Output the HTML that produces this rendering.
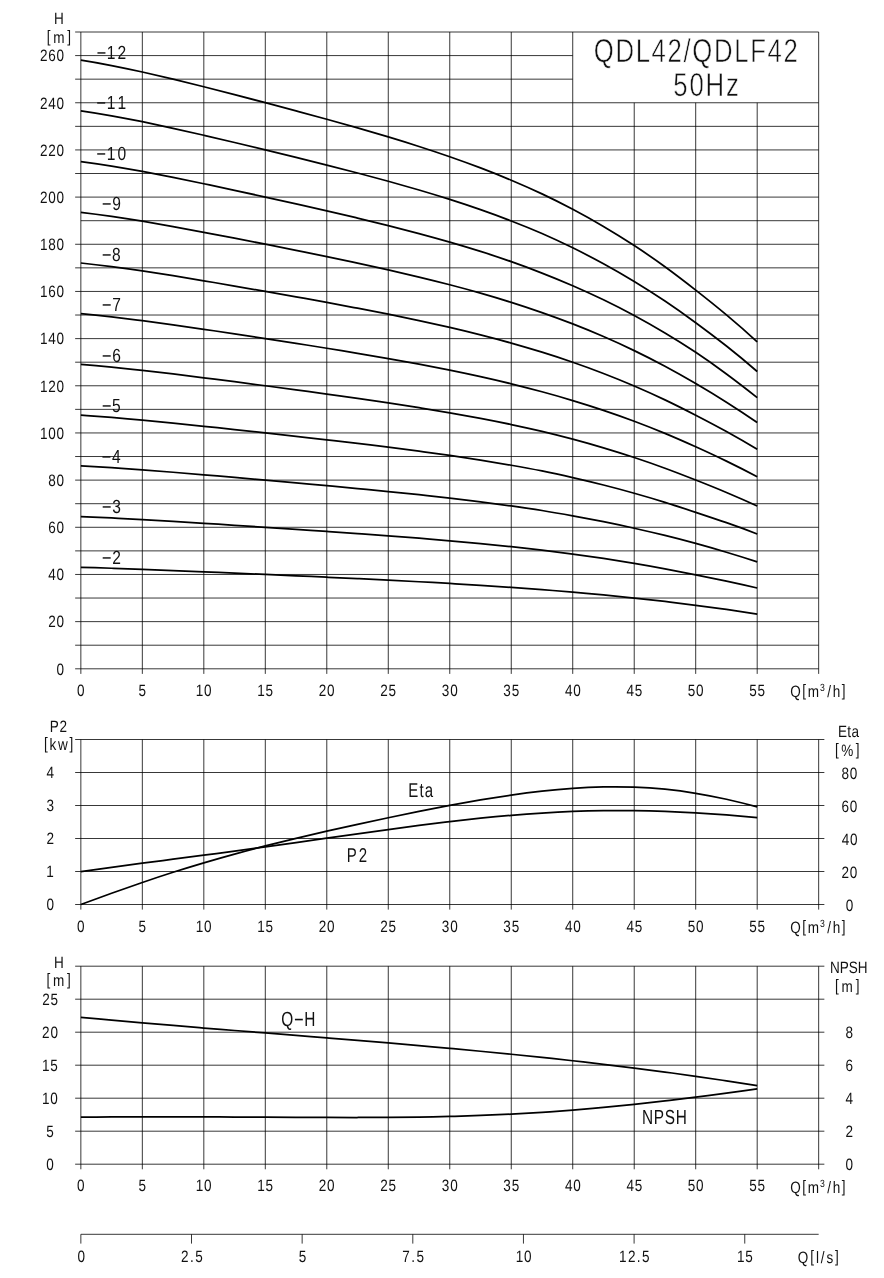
<!DOCTYPE html>
<html lang="en">
<head>
<meta charset="utf-8">
<title>QDL42/QDLF42 50Hz performance curves</title>
<style>
html,body{margin:0;padding:0;background:#fff}
svg{display:block;will-change:transform}
text{font-family:"Liberation Sans",sans-serif;fill:#111;font-kerning:none;white-space:pre;text-rendering:geometricPrecision}
.t{stroke:#fff;stroke-width:.6}
.g{fill:none;stroke:#000;stroke-opacity:.78;stroke-width:1}
.c{fill:none;stroke:#000;stroke-width:1.75;stroke-linecap:butt;stroke-linejoin:round}
</style>
</head>
<body>
<svg width="884" height="1278" viewBox="0 0 884 1278">
<rect width="884" height="1278" fill="#fff"/>
<path class="g" d="M80.85 32V673.9M142.33 32V673.9M203.82 32V673.9M265.31 32V673.9M326.79 32V673.9M388.27 32V673.9M449.76 32V673.9M511.25 32V673.9M572.73 32V673.9M634.22 102.76V673.9M695.7 102.76V673.9M757.19 102.76V673.9M818.67 32V673.9"/>
<path class="g" d="M75.15 668.8H818.67M75.15 645.21H818.67M75.15 621.63H818.67M75.15 598.04H818.67M75.15 574.46H818.67M75.15 550.88H818.67M75.15 527.29H818.67M75.15 503.7H818.67M75.15 480.12H818.67M75.15 456.53H818.67M75.15 432.95H818.67M75.15 409.36H818.67M75.15 385.78H818.67M75.15 362.19H818.67M75.15 338.61H818.67M75.15 315.02H818.67M75.15 291.44H818.67M75.15 267.85H818.67M75.15 244.27H818.67M80.85 220.69H818.67M75.15 197.1H818.67M75.15 173.51H818.67M75.15 149.93H818.67M75.15 126.35H818.67M75.15 102.76H818.67M75.15 79.17H572.73M75.15 55.59H572.73M75.15 32H818.67"/>
<path class="g" d="M80.85 739.5V909.6M142.33 739.5V909.6M203.82 739.5V909.6M265.31 739.5V909.6M326.79 739.5V909.6M388.27 739.5V909.6M449.76 739.5V909.6M511.25 739.5V909.6M572.73 739.5V909.6M634.22 739.5V909.6M695.7 739.5V909.6M757.19 739.5V909.6M818.67 739.5V909.6"/>
<path class="g" d="M75.15 904.5H824.37M75.15 871.5H824.37M75.15 838.5H824.37M75.15 805.5H824.37M75.15 772.5H824.37M75.15 739.5H824.37"/>
<path class="g" d="M80.85 966.2V1169.3M142.33 966.2V1169.3M203.82 966.2V1169.3M265.31 966.2V1169.3M326.79 966.2V1169.3M388.27 966.2V1169.3M449.76 966.2V1169.3M511.25 966.2V1169.3M572.73 966.2V1169.3M634.22 966.2V1169.3M695.7 966.2V1169.3M757.19 966.2V1169.3M818.67 966.2V1169.3"/>
<path class="g" d="M75.15 1164.2H824.37M75.15 1131.2H824.37M75.15 1098.2H824.37M75.15 1065.2H824.37M75.15 1032.2H824.37M75.15 999.2H824.37M75.15 966.2H824.37"/>
<path class="g" d="M80.85 1234.3H818.67M80.85 1234.3V1243.6M191.5 1234.3V1243.6M302.15 1234.3V1243.6M412.8 1234.3V1243.6M523.45 1234.3V1243.6M634.1 1234.3V1243.6M744.75 1234.3V1243.6"/>
<path class="c" d="M80.85 60.1C91.1 61.69 101.34 63.52 111.59 65.52C121.84 67.53 132.09 69.7 142.33 71.99C152.58 74.28 162.83 76.68 173.08 79.15C183.32 81.62 193.57 84.17 203.82 86.76C214.07 89.34 224.31 91.97 234.56 94.63C244.81 97.29 255.06 99.98 265.31 102.69C275.55 105.4 285.8 108.13 296.05 110.9C306.3 113.66 316.54 116.45 326.79 119.28C337.04 122.11 347.29 124.98 357.53 127.92C367.78 130.85 378.03 133.85 388.27 136.93C398.52 140.02 408.77 143.19 419.02 146.48C429.27 149.77 439.51 153.18 449.76 156.75C460.01 160.31 470.26 164.03 480.5 167.93C490.75 171.84 501 175.94 511.25 180.25C521.49 184.56 531.74 189.08 541.99 193.91C552.24 198.74 562.48 203.89 572.73 209.31C582.98 214.74 593.23 220.44 603.47 226.48C613.72 232.51 623.97 238.88 634.22 245.57C644.46 252.27 654.71 259.29 664.96 266.75C675.21 274.2 685.45 282.09 695.7 290.12C705.95 298.15 716.2 306.32 726.44 314.88C736.69 323.43 746.94 332.36 757.19 341.91"/>
<path class="c" d="M80.85 110.82C91.1 112.29 101.34 113.96 111.59 115.8C121.84 117.63 132.09 119.63 142.33 121.72C152.58 123.82 162.83 126.02 173.08 128.29C183.32 130.55 193.57 132.89 203.82 135.26C214.07 137.63 224.31 140.04 234.56 142.48C244.81 144.92 255.06 147.38 265.31 149.87C275.55 152.35 285.8 154.86 296.05 157.39C306.3 159.92 316.54 162.48 326.79 165.07C337.04 167.67 347.29 170.3 357.53 172.99C367.78 175.68 378.03 178.43 388.27 181.25C398.52 184.08 408.77 186.99 419.02 190.01C429.27 193.03 439.51 196.15 449.76 199.42C460.01 202.68 470.26 206.09 480.5 209.67C490.75 213.25 501 217.02 511.25 220.96C521.49 224.9 531.74 229.02 541.99 233.48C552.24 237.95 562.48 242.76 572.73 247.81C582.98 252.86 593.23 258.16 603.47 263.75C613.72 269.35 623.97 275.25 634.22 281.46C644.46 287.67 654.71 294.2 664.96 301.08C675.21 307.97 685.45 315.22 695.7 322.71C705.95 330.21 716.2 337.96 726.44 346.06C736.69 354.15 746.94 362.6 757.19 371.49"/>
<path class="c" d="M80.85 161.55C91.1 162.88 101.34 164.4 111.59 166.07C121.84 167.74 132.09 169.55 142.33 171.46C152.58 173.36 162.83 175.37 173.08 177.43C183.32 179.49 193.57 181.61 203.82 183.76C214.07 185.92 224.31 188.11 234.56 190.33C244.81 192.54 255.06 194.78 265.31 197.04C275.55 199.3 285.8 201.58 296.05 203.88C306.3 206.18 316.54 208.51 326.79 210.86C337.04 213.22 347.29 215.62 357.53 218.06C367.78 220.51 378.03 223.01 388.27 225.58C398.52 228.15 408.77 230.79 419.02 233.53C429.27 236.28 439.51 239.12 449.76 242.09C460.01 245.06 470.26 248.16 480.5 251.41C490.75 254.66 501 258.07 511.25 261.67C521.49 265.27 531.74 269.06 541.99 273.06C552.24 277.05 562.48 281.26 572.73 285.71C582.98 290.16 593.23 294.86 603.47 299.82C613.72 304.78 623.97 310.01 634.22 315.54C644.46 321.07 654.71 326.9 664.96 333C675.21 339.1 685.45 345.47 695.7 352.29C705.95 359.11 716.2 366.39 726.44 373.98C736.69 381.57 746.94 389.48 757.19 397.57"/>
<path class="c" d="M80.85 212.27C91.1 213.47 101.34 214.84 111.59 216.34C121.84 217.85 132.09 219.48 142.33 221.19C152.58 222.91 162.83 224.71 173.08 226.56C183.32 228.42 193.57 230.33 203.82 232.27C214.07 234.21 224.31 236.18 234.56 238.18C244.81 240.17 255.06 242.18 265.31 244.22C275.55 246.25 285.8 248.3 296.05 250.37C306.3 252.44 316.54 254.53 326.79 256.66C337.04 258.78 347.29 260.94 357.53 263.14C367.78 265.34 378.03 267.59 388.27 269.9C398.52 272.21 408.77 274.59 419.02 277.06C429.27 279.53 439.51 282.09 449.76 284.76C460.01 287.43 470.26 290.22 480.5 293.15C490.75 296.08 501 299.14 511.25 302.39C521.49 305.63 531.74 309.05 541.99 312.63C552.24 316.21 562.48 319.96 572.73 323.93C582.98 327.9 593.23 332.11 603.47 336.55C613.72 340.99 623.97 345.67 634.22 350.61C644.46 355.55 654.71 360.75 664.96 366.24C675.21 371.73 685.45 377.52 695.7 383.52C705.95 389.51 716.2 395.71 726.44 402.19C736.69 408.67 746.94 415.44 757.19 422.57"/>
<path class="c" d="M80.85 263C91.1 264.06 101.34 265.28 111.59 266.62C121.84 267.95 132.09 269.4 142.33 270.93C152.58 272.45 162.83 274.05 173.08 275.7C183.32 277.35 193.57 279.04 203.82 280.77C214.07 282.5 224.31 284.25 234.56 286.02C244.81 287.8 255.06 289.59 265.31 291.39C275.55 293.2 285.8 295.02 296.05 296.86C306.3 298.7 316.54 300.56 326.79 302.45C337.04 304.34 347.29 306.25 357.53 308.21C367.78 310.17 378.03 312.16 388.27 314.22C398.52 316.28 408.77 318.39 419.02 320.59C429.27 322.78 439.51 325.06 449.76 327.43C460.01 329.81 470.26 332.29 480.5 334.89C490.75 337.49 501 340.22 511.25 343.1C521.49 345.98 531.74 349.02 541.99 352.21C552.24 355.39 562.48 358.72 572.73 362.25C582.98 365.78 593.23 369.51 603.47 373.46C613.72 377.41 623.97 381.58 634.22 385.97C644.46 390.36 654.71 394.97 664.96 399.86C675.21 404.75 685.45 409.93 695.7 415.21C705.95 420.5 716.2 425.89 726.44 431.53C736.69 437.17 746.94 443.07 757.19 449.37"/>
<path class="c" d="M80.85 313.72C91.1 314.65 101.34 315.72 111.59 316.89C121.84 318.06 132.09 319.33 142.33 320.66C152.58 322 162.83 323.4 173.08 324.84C183.32 326.28 193.57 327.76 203.82 329.27C214.07 330.78 224.31 332.32 234.56 333.87C244.81 335.42 255.06 336.99 265.31 338.57C275.55 340.15 285.8 341.74 296.05 343.36C306.3 344.97 316.54 346.59 326.79 348.25C337.04 349.9 347.29 351.57 357.53 353.28C367.78 355 378.03 356.74 388.27 358.54C398.52 360.34 408.77 362.19 419.02 364.11C429.27 366.03 439.51 368.02 449.76 370.1C460.01 372.18 470.26 374.35 480.5 376.63C490.75 378.9 501 381.29 511.25 383.81C521.49 386.34 531.74 389 541.99 391.78C552.24 394.56 562.48 397.46 572.73 400.54C582.98 403.61 593.23 406.87 603.47 410.32C613.72 413.76 623.97 417.39 634.22 421.22C644.46 425.05 654.71 429.08 664.96 433.34C675.21 437.61 685.45 442.12 695.7 446.75C705.95 451.38 716.2 456.13 726.44 461.11C736.69 466.08 746.94 471.28 757.19 476.79"/>
<path class="c" d="M80.85 364.45C91.1 365.25 101.34 366.16 111.59 367.16C121.84 368.16 132.09 369.25 142.33 370.39C152.58 371.54 162.83 372.74 173.08 373.98C183.32 375.21 193.57 376.48 203.82 377.78C214.07 379.07 224.31 380.39 234.56 381.72C244.81 383.05 255.06 384.39 265.31 385.75C275.55 387.1 285.8 388.47 296.05 389.85C306.3 391.23 316.54 392.62 326.79 394.04C337.04 395.45 347.29 396.89 357.53 398.36C367.78 399.83 378.03 401.32 388.27 402.87C398.52 404.41 408.77 405.99 419.02 407.64C429.27 409.29 439.51 410.99 449.76 412.77C460.01 414.55 470.26 416.41 480.5 418.37C490.75 420.32 501 422.37 511.25 424.52C521.49 426.67 531.74 428.92 541.99 431.35C552.24 433.79 562.48 436.42 572.73 439.17C582.98 441.93 593.23 444.81 603.47 447.86C613.72 450.92 623.97 454.14 634.22 457.52C644.46 460.91 654.71 464.46 664.96 468.23C675.21 471.99 685.45 475.98 695.7 480.03C705.95 484.07 716.2 488.18 726.44 492.47C736.69 496.77 746.94 501.26 757.19 506.06"/>
<path class="c" d="M80.85 415.17C91.1 415.84 101.34 416.6 111.59 417.44C121.84 418.27 132.09 419.18 142.33 420.13C152.58 421.08 162.83 422.08 173.08 423.11C183.32 424.14 193.57 425.2 203.82 426.28C214.07 427.36 224.31 428.46 234.56 429.56C244.81 430.67 255.06 431.79 265.31 432.92C275.55 434.05 285.8 435.19 296.05 436.34C306.3 437.49 316.54 438.65 326.79 439.83C337.04 441.01 347.29 442.21 357.53 443.43C367.78 444.65 378.03 445.9 388.27 447.19C398.52 448.47 408.77 449.8 419.02 451.17C429.27 452.54 439.51 453.96 449.76 455.44C460.01 456.93 470.26 458.47 480.5 460.11C490.75 461.74 501 463.45 511.25 465.24C521.49 467.02 531.74 468.87 541.99 470.93C552.24 472.99 562.48 475.25 572.73 477.61C582.98 479.97 593.23 482.42 603.47 485.02C613.72 487.62 623.97 490.36 634.22 493.23C644.46 496.11 654.71 499.11 664.96 502.32C675.21 505.52 685.45 508.91 695.7 512.31C705.95 515.71 716.2 519.12 726.44 522.69C736.69 526.25 746.94 529.98 757.19 534.01"/>
<path class="c" d="M80.85 465.9C91.1 466.43 101.34 467.04 111.59 467.71C121.84 468.38 132.09 469.1 142.33 469.86C152.58 470.63 162.83 471.43 173.08 472.25C183.32 473.07 193.57 473.92 203.82 474.79C214.07 475.65 224.31 476.52 234.56 477.41C244.81 478.3 255.06 479.19 265.31 480.1C275.55 481 285.8 481.91 296.05 482.83C306.3 483.75 316.54 484.68 326.79 485.63C337.04 486.57 347.29 487.53 357.53 488.51C367.78 489.48 378.03 490.48 388.27 491.51C398.52 492.54 408.77 493.6 419.02 494.69C429.27 495.79 439.51 496.93 449.76 498.12C460.01 499.3 470.26 500.54 480.5 501.84C490.75 503.15 501 504.52 511.25 505.95C521.49 507.38 531.74 508.86 541.99 510.5C552.24 512.14 562.48 513.94 572.73 515.81C582.98 517.68 593.23 519.63 603.47 521.7C613.72 523.76 623.97 525.94 634.22 528.23C644.46 530.53 654.71 532.94 664.96 535.46C675.21 537.99 685.45 540.63 695.7 543.42C705.95 546.22 716.2 549.17 726.44 552.24C736.69 555.32 746.94 558.52 757.19 561.82"/>
<path class="c" d="M80.85 516.62C91.1 517.02 101.34 517.48 111.59 517.98C121.84 518.48 132.09 519.03 142.33 519.6C152.58 520.17 162.83 520.77 173.08 521.39C183.32 522.01 193.57 522.64 203.82 523.29C214.07 523.94 224.31 524.59 234.56 525.26C244.81 525.92 255.06 526.59 265.31 527.27C275.55 527.95 285.8 528.63 296.05 529.32C306.3 530.01 316.54 530.71 326.79 531.42C337.04 532.13 347.29 532.85 357.53 533.58C367.78 534.31 378.03 535.06 388.27 535.83C398.52 536.6 408.77 537.4 419.02 538.22C429.27 539.04 439.51 539.9 449.76 540.79C460.01 541.68 470.26 542.6 480.5 543.58C490.75 544.56 501 545.59 511.25 546.66C521.49 547.73 531.74 548.85 541.99 550.08C552.24 551.31 562.48 552.65 572.73 554.06C582.98 555.46 593.23 556.92 603.47 558.47C613.72 560.02 623.97 561.66 634.22 563.37C644.46 565.09 654.71 566.89 664.96 568.8C675.21 570.7 685.45 572.71 695.7 574.77C705.95 576.82 716.2 578.91 726.44 581.1C736.69 583.28 746.94 585.57 757.19 588"/>
<path class="c" d="M80.85 567.35C91.1 567.62 101.34 567.92 111.59 568.25C121.84 568.59 132.09 568.95 142.33 569.33C152.58 569.71 162.83 570.11 173.08 570.53C183.32 570.94 193.57 571.36 203.82 571.79C214.07 572.22 224.31 572.66 234.56 573.11C244.81 573.55 255.06 574 265.31 574.45C275.55 574.9 285.8 575.36 296.05 575.82C306.3 576.28 316.54 576.74 326.79 577.21C337.04 577.68 347.29 578.16 357.53 578.65C367.78 579.14 378.03 579.64 388.27 580.16C398.52 580.67 408.77 581.2 419.02 581.75C429.27 582.3 439.51 582.86 449.76 583.46C460.01 584.05 470.26 584.67 480.5 585.32C490.75 585.97 501 586.65 511.25 587.37C521.49 588.1 531.74 588.86 541.99 589.65C552.24 590.44 562.48 591.26 572.73 592.13C582.98 593.01 593.23 593.93 603.47 594.91C613.72 595.89 623.97 596.92 634.22 598.01C644.46 599.1 654.71 600.24 664.96 601.45C675.21 602.66 685.45 603.92 695.7 605.26C705.95 606.6 716.2 608.01 726.44 609.48C736.69 610.96 746.94 612.49 757.19 614.08"/>
<path class="c" d="M80.85 904.49C91.1 900.73 101.34 896.98 111.59 893.3C121.84 889.61 132.09 885.99 142.33 882.47C152.58 878.96 162.83 875.56 173.08 872.28C183.32 869 193.57 865.84 203.82 862.81C214.07 859.78 224.31 856.86 234.56 854.06C244.81 851.25 255.06 848.56 265.31 845.95C275.55 843.34 285.8 840.81 296.05 838.36C306.3 835.91 316.54 833.52 326.79 831.19C337.04 828.85 347.29 826.57 357.53 824.33C367.78 822.1 378.03 819.9 388.27 817.75C398.52 815.6 408.77 813.5 419.02 811.45C429.27 809.4 439.51 807.4 449.76 805.48C460.01 803.56 470.26 801.72 480.5 799.98C490.75 798.24 501 796.61 511.25 795.13C521.49 793.64 531.74 792.31 541.99 791.16C552.24 790.01 562.48 789.05 572.73 788.33C582.98 787.6 593.23 787.12 603.47 786.91C613.72 786.7 623.97 786.76 634.22 787.14C644.46 787.52 654.71 788.22 664.96 789.24C675.21 790.26 685.45 791.61 695.7 793.29C705.95 794.97 716.2 796.98 726.44 799.27C736.69 801.57 746.94 804.14 757.19 806.96"/>
<path class="c" d="M80.85 871.63C91.1 870.11 101.34 868.67 111.59 867.27C121.84 865.87 132.09 864.51 142.33 863.18C152.58 861.84 162.83 860.52 173.08 859.19C183.32 857.86 193.57 856.53 203.82 855.18C214.07 853.83 224.31 852.47 234.56 851.09C244.81 849.71 255.06 848.3 265.31 846.88C275.55 845.46 285.8 844.02 296.05 842.57C306.3 841.11 316.54 839.65 326.79 838.19C337.04 836.72 347.29 835.26 357.53 833.81C367.78 832.36 378.03 830.93 388.27 829.52C398.52 828.12 408.77 826.75 419.02 825.42C429.27 824.1 439.51 822.83 449.76 821.62C460.01 820.41 470.26 819.28 480.5 818.22C490.75 817.17 501 816.2 511.25 815.34C521.49 814.47 531.74 813.71 541.99 813.06C552.24 812.42 562.48 811.88 572.73 811.48C582.98 811.07 593.23 810.79 603.47 810.64C613.72 810.49 623.97 810.48 634.22 810.59C644.46 810.7 654.71 810.95 664.96 811.32C675.21 811.69 685.45 812.19 695.7 812.79C705.95 813.4 716.2 814.12 726.44 814.93C736.69 815.73 746.94 816.63 757.19 817.59"/>
<path class="c" d="M80.85 1017.39C91.1 1018.34 101.34 1019.27 111.59 1020.19C121.84 1021.1 132.09 1021.99 142.33 1022.87C152.58 1023.75 162.83 1024.62 173.08 1025.48C183.32 1026.33 193.57 1027.18 203.82 1028.01C214.07 1028.85 224.31 1029.68 234.56 1030.5C244.81 1031.33 255.06 1032.15 265.31 1032.97C275.55 1033.79 285.8 1034.61 296.05 1035.43C306.3 1036.25 316.54 1037.08 326.79 1037.91C337.04 1038.74 347.29 1039.58 357.53 1040.42C367.78 1041.27 378.03 1042.12 388.27 1042.99C398.52 1043.86 408.77 1044.74 419.02 1045.64C429.27 1046.54 439.51 1047.45 449.76 1048.38C460.01 1049.32 470.26 1050.27 480.5 1051.25C490.75 1052.22 501 1053.22 511.25 1054.25C521.49 1055.28 531.74 1056.33 541.99 1057.41C552.24 1058.49 562.48 1059.61 572.73 1060.75C582.98 1061.9 593.23 1063.08 603.47 1064.29C613.72 1065.51 623.97 1066.76 634.22 1068.05C644.46 1069.34 654.71 1070.68 664.96 1072.05C675.21 1073.43 685.45 1074.85 695.7 1076.31C705.95 1077.78 716.2 1079.29 726.44 1080.86C736.69 1082.42 746.94 1084.04 757.19 1085.7"/>
<path class="c" d="M80.85 1117.05C91.1 1117.03 101.34 1117 111.59 1116.97C121.84 1116.94 132.09 1116.91 142.33 1116.9C152.58 1116.88 162.83 1116.87 173.08 1116.87C183.32 1116.88 193.57 1116.89 203.82 1116.92C214.07 1116.95 224.31 1116.99 234.56 1117.03C244.81 1117.08 255.06 1117.13 265.31 1117.19C275.55 1117.24 285.8 1117.3 296.05 1117.35C306.3 1117.4 316.54 1117.44 326.79 1117.47C337.04 1117.5 347.29 1117.52 357.53 1117.5C367.78 1117.49 378.03 1117.45 388.27 1117.38C398.52 1117.3 408.77 1117.19 419.02 1117.03C429.27 1116.87 439.51 1116.67 449.76 1116.41C460.01 1116.15 470.26 1115.83 480.5 1115.45C490.75 1115.07 501 1114.62 511.25 1114.11C521.49 1113.59 531.74 1113 541.99 1112.34C552.24 1111.68 562.48 1110.95 572.73 1110.14C582.98 1109.33 593.23 1108.44 603.47 1107.48C613.72 1106.52 623.97 1105.49 634.22 1104.39C644.46 1103.29 654.71 1102.12 664.96 1100.9C675.21 1099.68 685.45 1098.4 695.7 1097.08C705.95 1095.76 716.2 1094.41 726.44 1093.03C736.69 1091.66 746.94 1090.26 757.19 1088.88"/>
<text transform="translate(593.78,62.30) scale(0.78,1)" font-size="33" letter-spacing="2.10" class="t">QDL42/QDLF42</text>
<text transform="translate(673.37,95.60) scale(0.78,1)" font-size="33" letter-spacing="2.32" class="t">50Hz</text>
<text transform="translate(53.91,23.90) scale(0.82,1)" font-size="16.5" letter-spacing="1.65">H</text>
<text transform="translate(46.84,42.70) scale(0.82,1)" font-size="16.5" letter-spacing="3.20"><tspan dy="-1.00">[</tspan><tspan dy="1.00">m</tspan><tspan dy="-1.00">]</tspan></text>
<text transform="translate(56.60,674.60) scale(0.82,1)" font-size="16.5" letter-spacing="0.95">0</text>
<text transform="translate(48.30,627.43) scale(0.82,1)" font-size="16.5" letter-spacing="0.95">20</text>
<text transform="translate(48.30,580.26) scale(0.82,1)" font-size="16.5" letter-spacing="0.95">40</text>
<text transform="translate(48.30,533.09) scale(0.82,1)" font-size="16.5" letter-spacing="0.95">60</text>
<text transform="translate(48.30,485.92) scale(0.82,1)" font-size="16.5" letter-spacing="0.95">80</text>
<text transform="translate(40.00,438.75) scale(0.82,1)" font-size="16.5" letter-spacing="0.95">100</text>
<text transform="translate(40.00,391.58) scale(0.82,1)" font-size="16.5" letter-spacing="0.95">120</text>
<text transform="translate(40.00,344.41) scale(0.82,1)" font-size="16.5" letter-spacing="0.95">140</text>
<text transform="translate(40.00,297.24) scale(0.82,1)" font-size="16.5" letter-spacing="0.95">160</text>
<text transform="translate(40.00,250.07) scale(0.82,1)" font-size="16.5" letter-spacing="0.95">180</text>
<text transform="translate(40.00,202.90) scale(0.82,1)" font-size="16.5" letter-spacing="0.95">200</text>
<text transform="translate(40.00,155.73) scale(0.82,1)" font-size="16.5" letter-spacing="0.95">220</text>
<text transform="translate(40.00,108.56) scale(0.82,1)" font-size="16.5" letter-spacing="0.95">240</text>
<text transform="translate(40.00,61.39) scale(0.82,1)" font-size="16.5" letter-spacing="0.95">260</text>
<text transform="translate(77.09,695.50) scale(0.82,1)" font-size="16.5" letter-spacing="0.95">0</text>
<text transform="translate(138.59,695.50) scale(0.82,1)" font-size="16.5" letter-spacing="0.95">5</text>
<text transform="translate(195.65,695.50) scale(0.82,1)" font-size="16.5" letter-spacing="0.95">10</text>
<text transform="translate(257.16,695.50) scale(0.82,1)" font-size="16.5" letter-spacing="0.95">15</text>
<text transform="translate(318.80,695.50) scale(0.82,1)" font-size="16.5" letter-spacing="0.95">20</text>
<text transform="translate(380.30,695.50) scale(0.82,1)" font-size="16.5" letter-spacing="0.95">25</text>
<text transform="translate(441.85,695.50) scale(0.82,1)" font-size="16.5" letter-spacing="0.95">30</text>
<text transform="translate(503.36,695.50) scale(0.82,1)" font-size="16.5" letter-spacing="0.95">35</text>
<text transform="translate(564.92,695.50) scale(0.82,1)" font-size="16.5" letter-spacing="0.95">40</text>
<text transform="translate(626.43,695.50) scale(0.82,1)" font-size="16.5" letter-spacing="0.95">45</text>
<text transform="translate(687.78,695.50) scale(0.82,1)" font-size="16.5" letter-spacing="0.95">50</text>
<text transform="translate(749.28,695.50) scale(0.82,1)" font-size="16.5" letter-spacing="0.95">55</text>
<text transform="translate(95.89,58.80) scale(0.82,1)" font-size="19" letter-spacing="2.60"><tspan dy="-1.04" letter-spacing="0" textLength="13.29" lengthAdjust="spacingAndGlyphs">-</tspan><tspan dy="1.04">12</tspan></text>
<text transform="translate(95.87,109.30) scale(0.82,1)" font-size="19" letter-spacing="2.60"><tspan dy="-1.04" letter-spacing="0" textLength="13.29" lengthAdjust="spacingAndGlyphs">-</tspan><tspan dy="1.04">11</tspan></text>
<text transform="translate(95.80,159.80) scale(0.82,1)" font-size="19" letter-spacing="2.60"><tspan dy="-1.04" letter-spacing="0" textLength="13.29" lengthAdjust="spacingAndGlyphs">-</tspan><tspan dy="1.04">10</tspan></text>
<text transform="translate(101.26,210.30) scale(0.82,1)" font-size="19" letter-spacing="2.60"><tspan dy="-1.04" letter-spacing="0" textLength="13.29" lengthAdjust="spacingAndGlyphs">-</tspan><tspan dy="1.04">9</tspan></text>
<text transform="translate(101.23,260.80) scale(0.82,1)" font-size="19" letter-spacing="2.60"><tspan dy="-1.04" letter-spacing="0" textLength="13.29" lengthAdjust="spacingAndGlyphs">-</tspan><tspan dy="1.04">8</tspan></text>
<text transform="translate(101.28,311.30) scale(0.82,1)" font-size="19" letter-spacing="2.60"><tspan dy="-1.04" letter-spacing="0" textLength="13.29" lengthAdjust="spacingAndGlyphs">-</tspan><tspan dy="1.04">7</tspan></text>
<text transform="translate(101.24,361.80) scale(0.82,1)" font-size="19" letter-spacing="2.60"><tspan dy="-1.04" letter-spacing="0" textLength="13.29" lengthAdjust="spacingAndGlyphs">-</tspan><tspan dy="1.04">6</tspan></text>
<text transform="translate(101.22,412.30) scale(0.82,1)" font-size="19" letter-spacing="2.60"><tspan dy="-1.04" letter-spacing="0" textLength="13.29" lengthAdjust="spacingAndGlyphs">-</tspan><tspan dy="1.04">5</tspan></text>
<text transform="translate(101.12,462.80) scale(0.82,1)" font-size="19" letter-spacing="2.60"><tspan dy="-1.04" letter-spacing="0" textLength="13.29" lengthAdjust="spacingAndGlyphs">-</tspan><tspan dy="1.04">4</tspan></text>
<text transform="translate(101.24,513.30) scale(0.82,1)" font-size="19" letter-spacing="2.60"><tspan dy="-1.04" letter-spacing="0" textLength="13.29" lengthAdjust="spacingAndGlyphs">-</tspan><tspan dy="1.04">3</tspan></text>
<text transform="translate(101.28,563.80) scale(0.82,1)" font-size="19" letter-spacing="2.60"><tspan dy="-1.04" letter-spacing="0" textLength="13.29" lengthAdjust="spacingAndGlyphs">-</tspan><tspan dy="1.04">2</tspan></text>
<text transform="translate(0,696.80) scale(0.82,1)" font-size="16.5"><tspan x="963.73">Q</tspan><tspan x="978.21" dy="-1.0">[</tspan><tspan x="985.00" dy="1.0">m</tspan><tspan x="1000.09" dy="-6.2" font-size="10.5">3</tspan><tspan x="1008.78 1015.56" dy="6.2">/h</tspan><tspan x="1026.58" dy="-1.0">]</tspan></text>
<text transform="translate(49.79,731.50) scale(0.82,1)" font-size="16.5" letter-spacing="0.90">P2</text>
<text transform="translate(44.04,750.20) scale(0.82,1)" font-size="16.5" letter-spacing="2.14"><tspan dy="-1.00">[</tspan><tspan dy="1.00">kw</tspan><tspan dy="-1.00">]</tspan></text>
<text transform="translate(46.44,910.30) scale(0.82,1)" font-size="16.5" letter-spacing="1.65">0</text>
<text transform="translate(46.25,877.30) scale(0.82,1)" font-size="16.5" letter-spacing="1.65">1</text>
<text transform="translate(46.44,844.30) scale(0.82,1)" font-size="16.5" letter-spacing="1.65">2</text>
<text transform="translate(46.48,811.30) scale(0.82,1)" font-size="16.5" letter-spacing="1.65">3</text>
<text transform="translate(46.48,778.30) scale(0.82,1)" font-size="16.5" letter-spacing="1.65">4</text>
<text transform="translate(845.74,910.60) scale(0.82,1)" font-size="16.5" letter-spacing="0.95">0</text>
<text transform="translate(841.51,877.60) scale(0.82,1)" font-size="16.5" letter-spacing="0.95">20</text>
<text transform="translate(841.69,844.60) scale(0.82,1)" font-size="16.5" letter-spacing="0.95">40</text>
<text transform="translate(841.51,811.60) scale(0.82,1)" font-size="16.5" letter-spacing="0.95">60</text>
<text transform="translate(841.56,778.60) scale(0.82,1)" font-size="16.5" letter-spacing="0.95">80</text>
<text transform="translate(837.89,737.00) scale(0.82,1)" font-size="16.5" letter-spacing="0.55">Eta</text>
<text transform="translate(834.94,756.00) scale(0.82,1)" font-size="16.5" letter-spacing="3.04"><tspan dy="-1.00">[</tspan><tspan dy="1.00">%</tspan><tspan dy="-1.00">]</tspan></text>
<text transform="translate(77.09,931.60) scale(0.82,1)" font-size="16.5" letter-spacing="0.95">0</text>
<text transform="translate(138.59,931.60) scale(0.82,1)" font-size="16.5" letter-spacing="0.95">5</text>
<text transform="translate(195.65,931.60) scale(0.82,1)" font-size="16.5" letter-spacing="0.95">10</text>
<text transform="translate(257.16,931.60) scale(0.82,1)" font-size="16.5" letter-spacing="0.95">15</text>
<text transform="translate(318.80,931.60) scale(0.82,1)" font-size="16.5" letter-spacing="0.95">20</text>
<text transform="translate(380.30,931.60) scale(0.82,1)" font-size="16.5" letter-spacing="0.95">25</text>
<text transform="translate(441.85,931.60) scale(0.82,1)" font-size="16.5" letter-spacing="0.95">30</text>
<text transform="translate(503.36,931.60) scale(0.82,1)" font-size="16.5" letter-spacing="0.95">35</text>
<text transform="translate(564.92,931.60) scale(0.82,1)" font-size="16.5" letter-spacing="0.95">40</text>
<text transform="translate(626.43,931.60) scale(0.82,1)" font-size="16.5" letter-spacing="0.95">45</text>
<text transform="translate(687.78,931.60) scale(0.82,1)" font-size="16.5" letter-spacing="0.95">50</text>
<text transform="translate(749.28,931.60) scale(0.82,1)" font-size="16.5" letter-spacing="0.95">55</text>
<text transform="translate(0,933.00) scale(0.82,1)" font-size="16.5"><tspan x="963.73">Q</tspan><tspan x="978.21" dy="-1.0">[</tspan><tspan x="985.00" dy="1.0">m</tspan><tspan x="1000.09" dy="-6.2" font-size="10.5">3</tspan><tspan x="1008.78 1015.56" dy="6.2">/h</tspan><tspan x="1026.58" dy="-1.0">]</tspan></text>
<text transform="translate(408.17,796.70) scale(0.75,1)" font-size="20" letter-spacing="1.68">Eta</text>
<text transform="translate(346.82,861.60) scale(0.75,1)" font-size="20" letter-spacing="2.65">P2</text>
<text transform="translate(54.06,967.50) scale(0.82,1)" font-size="16.5" letter-spacing="1.65">H</text>
<text transform="translate(46.54,986.40) scale(0.82,1)" font-size="16.5" letter-spacing="3.32"><tspan dy="-1.00">[</tspan><tspan dy="1.00">m</tspan><tspan dy="-1.00">]</tspan></text>
<text transform="translate(46.34,1169.90) scale(0.82,1)" font-size="16.5" letter-spacing="0.95">0</text>
<text transform="translate(46.35,1136.90) scale(0.82,1)" font-size="16.5" letter-spacing="0.95">5</text>
<text transform="translate(41.93,1103.90) scale(0.82,1)" font-size="16.5" letter-spacing="0.95">10</text>
<text transform="translate(41.95,1070.90) scale(0.82,1)" font-size="16.5" letter-spacing="0.95">15</text>
<text transform="translate(42.11,1037.90) scale(0.82,1)" font-size="16.5" letter-spacing="0.95">20</text>
<text transform="translate(42.13,1004.90) scale(0.82,1)" font-size="16.5" letter-spacing="0.95">25</text>
<text transform="translate(830.09,972.80) scale(0.82,1)" font-size="16.5" letter-spacing="-0.03">NPSH</text>
<text transform="translate(834.94,991.60) scale(0.82,1)" font-size="16.5" letter-spacing="3.50"><tspan dy="-1.00">[</tspan><tspan dy="1.00">m</tspan><tspan dy="-1.00">]</tspan></text>
<text transform="translate(845.54,1170.20) scale(0.82,1)" font-size="16.5" letter-spacing="1.65">0</text>
<text transform="translate(845.54,1137.20) scale(0.82,1)" font-size="16.5" letter-spacing="1.65">2</text>
<text transform="translate(845.58,1104.20) scale(0.82,1)" font-size="16.5" letter-spacing="1.65">4</text>
<text transform="translate(845.49,1071.20) scale(0.82,1)" font-size="16.5" letter-spacing="1.65">6</text>
<text transform="translate(845.54,1038.20) scale(0.82,1)" font-size="16.5" letter-spacing="1.65">8</text>
<text transform="translate(77.09,1191.20) scale(0.82,1)" font-size="16.5" letter-spacing="0.95">0</text>
<text transform="translate(138.59,1191.20) scale(0.82,1)" font-size="16.5" letter-spacing="0.95">5</text>
<text transform="translate(195.65,1191.20) scale(0.82,1)" font-size="16.5" letter-spacing="0.95">10</text>
<text transform="translate(257.16,1191.20) scale(0.82,1)" font-size="16.5" letter-spacing="0.95">15</text>
<text transform="translate(318.80,1191.20) scale(0.82,1)" font-size="16.5" letter-spacing="0.95">20</text>
<text transform="translate(380.30,1191.20) scale(0.82,1)" font-size="16.5" letter-spacing="0.95">25</text>
<text transform="translate(441.85,1191.20) scale(0.82,1)" font-size="16.5" letter-spacing="0.95">30</text>
<text transform="translate(503.36,1191.20) scale(0.82,1)" font-size="16.5" letter-spacing="0.95">35</text>
<text transform="translate(564.92,1191.20) scale(0.82,1)" font-size="16.5" letter-spacing="0.95">40</text>
<text transform="translate(626.43,1191.20) scale(0.82,1)" font-size="16.5" letter-spacing="0.95">45</text>
<text transform="translate(687.78,1191.20) scale(0.82,1)" font-size="16.5" letter-spacing="0.95">50</text>
<text transform="translate(749.28,1191.20) scale(0.82,1)" font-size="16.5" letter-spacing="0.95">55</text>
<text transform="translate(0,1192.70) scale(0.82,1)" font-size="16.5"><tspan x="963.73">Q</tspan><tspan x="978.21" dy="-1.0">[</tspan><tspan x="985.00" dy="1.0">m</tspan><tspan x="1000.09" dy="-6.2" font-size="10.5">3</tspan><tspan x="1008.78 1015.56" dy="6.2">/h</tspan><tspan x="1026.58" dy="-1.0">]</tspan></text>
<text transform="translate(281.27,1026.40) scale(0.75,1)" font-size="20.5" letter-spacing="0.22">Q<tspan dy="-1.13" letter-spacing="0" textLength="14.34" lengthAdjust="spacingAndGlyphs">-</tspan><tspan dy="1.13">H</tspan></text>
<text transform="translate(641.94,1124.10) scale(0.75,1)" font-size="20.5" letter-spacing="0.93">NPSH</text>
<text transform="translate(77.49,1262.00) scale(0.82,1)" font-size="16.5" letter-spacing="0.95">0</text>
<text transform="translate(181.00,1262.00) scale(0.82,1)" font-size="16.5" letter-spacing="1.75">2.5</text>
<text transform="translate(298.80,1262.00) scale(0.82,1)" font-size="16.5" letter-spacing="0.95">5</text>
<text transform="translate(402.30,1262.00) scale(0.82,1)" font-size="16.5" letter-spacing="1.75">7.5</text>
<text transform="translate(515.68,1262.00) scale(0.82,1)" font-size="16.5" letter-spacing="0.95">10</text>
<text transform="translate(618.95,1262.00) scale(0.82,1)" font-size="16.5" letter-spacing="1.75">12.5</text>
<text transform="translate(737.00,1262.00) scale(0.82,1)" font-size="16.5" letter-spacing="0.95">15</text>
<text transform="translate(797.86,1262.60) scale(0.82,1)" font-size="16.5" letter-spacing="2.28">Q<tspan dy="-1.00">[</tspan><tspan dy="1.00">l/s</tspan><tspan dy="-1.00">]</tspan></text>
</svg>
</body>
</html>
